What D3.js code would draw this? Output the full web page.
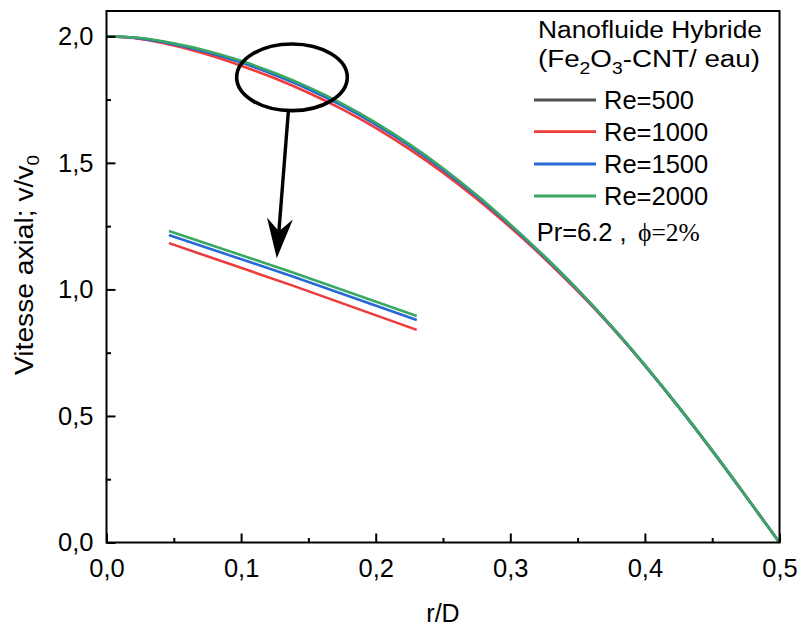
<!DOCTYPE html>
<html>
<head>
<meta charset="utf-8">
<script src="https://cdn.jsdelivr.net/npm/d3@7"></script>
<style>
  body { margin: 0; background: #fff; }
  svg { display: block; }
  text { font-family: "Liberation Sans", Arial, sans-serif; fill: #000; }
</style>
</head>
<body>
<svg id="chart" width="802" height="626"></svg>
<script>
// Radial position r/D
const rValues = [0, 0.025, 0.05, 0.075, 0.1, 0.125, 0.15, 0.175, 0.2, 0.225, 0.25,
                 0.275, 0.3, 0.325, 0.35, 0.375, 0.4, 0.425, 0.45, 0.475, 0.5];

// Axial velocity v/v0 for each Reynolds number
const re500  = [2.000, 1.992, 1.969, 1.937, 1.897, 1.848, 1.792, 1.727, 1.652, 1.568, 1.473,
                1.368, 1.253, 1.130, 0.998, 0.855, 0.700, 0.536, 0.363, 0.183, 0.000];
const re1000 = [2.000, 1.990, 1.964, 1.928, 1.884, 1.834, 1.777, 1.712, 1.638, 1.554, 1.461,
                1.358, 1.245, 1.124, 0.993, 0.852, 0.699, 0.536, 0.363, 0.183, 0.000];
const re1500 = [2.000, 1.992, 1.969, 1.937, 1.897, 1.848, 1.792, 1.727, 1.652, 1.568, 1.473,
                1.368, 1.253, 1.130, 0.998, 0.855, 0.700, 0.536, 0.363, 0.183, 0.000];
const re2000 = [2.000, 1.993, 1.972, 1.942, 1.903, 1.855, 1.799, 1.734, 1.659, 1.574, 1.479,
                1.373, 1.257, 1.133, 1.000, 0.856, 0.701, 0.537, 0.364, 0.183, 0.000];

const seriesNames  = ["Re=500", "Re=1000", "Re=1500", "Re=2000"];
const seriesColors = ["#505050", "#ee3b3b", "#2668d8", "#3aa862"];

// Magnified detail of the circled region (drawn in the empty part of the plot)
const insetR    = [0.0464, 0.1384, 0.2305];
const inset1000 = [1.183, 1.015, 0.840];
const inset1500 = [1.215, 1.051, 0.879];
const inset2000 = [1.231, 1.067, 0.895];

// Axis ticks
const xTicks = [0, 0.1, 0.2, 0.3, 0.4, 0.5];
const xTickLabels = ["0,0", "0,1", "0,2", "0,3", "0,4", "0,5"];
const xMinorTicks = [0.05, 0.15, 0.25, 0.35, 0.45];
const yTicks = [0, 0.5, 1.0, 1.5, 2.0];
const yTickLabels = ["0,0", "0,5", "1,0", "1,5", "2,0"];
const yMinorTicks = [0.25, 0.75, 1.25, 1.75];

// Annotation: circled area and pointer (data units)
const circleCenter = [0.1378, 1.838];
const circleRadii  = [0.0411, 0.1316];
const arrowFrom = [0.1351, 1.702];
const arrowTo   = [0.1265, 1.123];

const svg = d3.select("#chart");
const plotLeft = 106.5, plotRight = 779.5, plotTop = 11, plotBottom = 542.5;

const x = d3.scaleLinear().domain([0, 0.5]).range([plotLeft, plotRight]);
const y = d3.scaleLinear().domain([0, 2.1]).range([plotBottom, plotTop]);

const line = d3.line().x(d => x(d[0])).y(d => y(d[1])).curve(d3.curveMonotoneX);

// Main curves
const allSeries = [re500, re1000, re1500, re2000];
const gCurves = svg.append("g");
allSeries.forEach((vals, i) => {
  gCurves.append("path")
    .datum(rValues.map((r, k) => [r, vals[k]]))
    .attr("d", line)
    .attr("fill", "none")
    .attr("stroke", seriesColors[i])
    .attr("stroke-width", 2.6);
});

// Magnified detail curves
const insetSeries = [[inset1000, 1], [inset1500, 2], [inset2000, 3]];
insetSeries.forEach(([vals, ci]) => {
  gCurves.append("path")
    .datum(insetR.map((r, k) => [r, vals[k]]))
    .attr("d", line)
    .attr("fill", "none")
    .attr("stroke", seriesColors[ci])
    .attr("stroke-width", 2.6);
});

// Axes with inward ticks
const fmtX = d => xTickLabels[xTicks.indexOf(d)];
const fmtY = d => yTickLabels[yTicks.indexOf(d)];

const xAxis = svg.append("g").attr("transform", `translate(0,${plotBottom})`)
  .call(d3.axisBottom(x).tickValues(xTicks).tickSize(-9).tickPadding(16).tickFormat(fmtX));
const xMinor = svg.append("g").attr("transform", `translate(0,${plotBottom})`)
  .call(d3.axisBottom(x).tickValues(xMinorTicks).tickSize(-4.5).tickFormat(""));
const yAxis = svg.append("g").attr("transform", `translate(${plotLeft},0)`)
  .call(d3.axisLeft(y).tickValues(yTicks).tickSize(-9).tickPadding(13).tickFormat(fmtY));
const yMinor = svg.append("g").attr("transform", `translate(${plotLeft},0)`)
  .call(d3.axisLeft(y).tickValues(yMinorTicks).tickSize(-4.5).tickFormat(""));

[xAxis, xMinor, yAxis, yMinor].forEach(g => {
  g.select(".domain").remove();
  g.selectAll(".tick line").attr("stroke", "#000").attr("stroke-width", 2);
  g.selectAll(".tick text")
    .style("font-family", "'Liberation Sans', Arial, sans-serif")
    .style("font-size", "25.5px")
    .attr("fill", "#000");
});

// Frame
svg.append("rect")
  .attr("x", plotLeft).attr("y", plotTop)
  .attr("width", plotRight - plotLeft).attr("height", plotBottom - plotTop)
  .attr("fill", "none").attr("stroke", "#000").attr("stroke-width", 2);

// Axis titles
svg.append("text")
  .attr("x", (plotLeft + plotRight) / 2).attr("y", 621.5)
  .attr("text-anchor", "middle")
  .style("font-size", "25px")
  .text("r/D");

const yTitle = svg.append("text")
  .attr("transform", "translate(33,375) rotate(-90)")
  .attr("text-anchor", "start")
  .attr("textLength", 220).attr("lengthAdjust", "spacingAndGlyphs")
  .style("font-size", "25.5px");
yTitle.append("tspan").text("Vitesse axial; v/v");
yTitle.append("tspan").attr("dy", 6).style("font-size", "17px").text("0");

// Annotation ellipse and arrow
svg.append("ellipse")
  .attr("cx", x(circleCenter[0])).attr("cy", y(circleCenter[1]))
  .attr("rx", x(circleRadii[0]) - x(0)).attr("ry", y(0) - y(circleRadii[1]))
  .attr("fill", "none").attr("stroke", "#000").attr("stroke-width", 3.6);

const p0 = [x(arrowFrom[0]), y(arrowFrom[1])];
const p1 = [x(arrowTo[0]), y(arrowTo[1])];
const len = Math.hypot(p1[0] - p0[0], p1[1] - p0[1]);
const u = [(p1[0] - p0[0]) / len, (p1[1] - p0[1]) / len];
const n = [-u[1], u[0]];
const headLen = 40, headHalf = 13, notch = 27;
const notchPt = [p1[0] - notch * u[0], p1[1] - notch * u[1]];
svg.append("line")
  .attr("x1", p0[0]).attr("y1", p0[1])
  .attr("x2", notchPt[0]).attr("y2", notchPt[1])
  .attr("stroke", "#000").attr("stroke-width", 3.4);
const base = [p1[0] - headLen * u[0], p1[1] - headLen * u[1]];
svg.append("path")
  .attr("d", d3.line()([
    p1,
    [base[0] + headHalf * n[0], base[1] + headHalf * n[1]],
    notchPt,
    [base[0] - headHalf * n[0], base[1] - headHalf * n[1]]
  ]) + "Z")
  .attr("fill", "#000");

// Legend
const legend = svg.append("g");
legend.append("text").attr("x", 538).attr("y", 38.3)
  .style("font-size", "23px")
  .attr("textLength", 224).attr("lengthAdjust", "spacingAndGlyphs")
  .text("Nanofluide Hybride");
const l2 = legend.append("text").attr("x", 538).attr("y", 67.3)
  .style("font-size", "23px")
  .attr("textLength", 222).attr("lengthAdjust", "spacingAndGlyphs");
l2.append("tspan").text("(Fe");
l2.append("tspan").attr("dy", 7).style("font-size", "16px").text("2");
l2.append("tspan").attr("dy", -7).text("O");
l2.append("tspan").attr("dy", 7).style("font-size", "16px").text("3");
l2.append("tspan").attr("dy", -7).text("-CNT/ eau)");

const legendRowsY = [100, 131.7, 164, 196];
const legendBaselines = [109.3, 141, 172.7, 205];
seriesNames.forEach((name, i) => {
  legend.append("line")
    .attr("x1", 534).attr("x2", 596)
    .attr("y1", legendRowsY[i]).attr("y2", legendRowsY[i])
    .attr("stroke", seriesColors[i]).attr("stroke-width", 2.8);
  legend.append("text")
    .attr("x", 604).attr("y", legendBaselines[i])
    .style("font-size", "25.5px")
    .text(name);
});

legend.append("text").attr("x", 536.7).attr("y", 240.7)
  .style("font-size", "25.5px")
  .text("Pr=6.2 ,");
legend.append("text").attr("x", 638).attr("y", 240.7)
  .style("font-family", "'Liberation Serif', 'Times New Roman', serif")
  .style("font-size", "25.5px")
  .text("\u03D5=2%");
</script>
</body>
</html>
